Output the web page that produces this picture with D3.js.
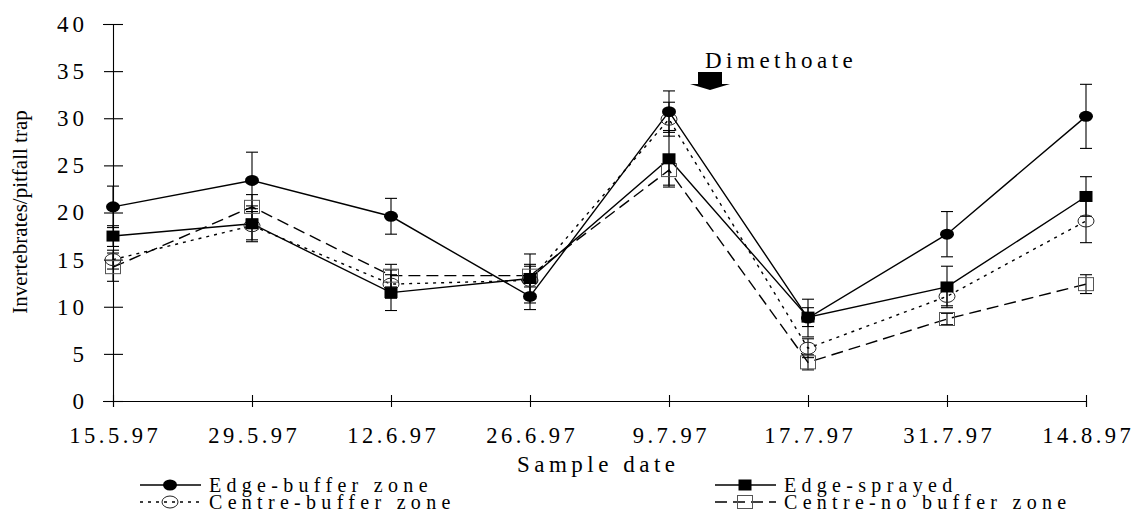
<!DOCTYPE html>
<html>
<head>
<meta charset="utf-8">
<script src="https://cdn.jsdelivr.net/npm/d3@7"></script>
<style>
    body { margin: 0; background: #fff; }
    svg text { font-family: "Liberation Serif", "Times New Roman", serif; fill: #000; }
</style>
</head>
<body>
<div id="chart"></div>
<script>
// Sample dates and y ticks
var dates = ["15.5.97", "29.5.97", "12.6.97", "26.6.97", "9.7.97", "17.7.97", "31.7.97", "14.8.97"];
var yTicks = [0, 5, 10, 15, 20, 25, 30, 35, 40];

// Means
var edgeBuffer = [20.6, 23.4, 19.6, 11.1, 30.7, 8.8, 17.7, 30.2];
var edgeSprayed = [17.5, 18.8, 11.5, 13.0, 25.7, 8.9, 12.1, 21.7];
var centreBuffer = [15.0, 18.6, 12.4, 12.8, 29.9, 5.6, 11.1, 19.1];
var centreNoBuffer = [14.2, 20.6, 13.3, 13.3, 24.5, 4.1, 8.7, 12.4];

// Standard errors
var edgeBufferErr = [2.2, 3.0, 1.9, 1.4, 2.2, 2.0, 2.4, 3.4];
var edgeSprayedErr = [1.1, 1.9, 1.9, 2.6, 3.0, 1.0, 2.2, 2.1];
var centreBufferErr = [1.0, 1.5, 1.5, 1.5, 1.8, 1.0, 1.0, 2.3];
var centreNoBufferErr = [1.5, 1.3, 1.2, 1.2, 1.6, 0.8, 0.6, 1.0];

var seriesNames = ["Edge-buffer zone", "Edge-sprayed", "Centre-buffer zone", "Centre-no buffer zone"];

var series = [
    { name: seriesNames[0], values: edgeBuffer, err: edgeBufferErr, dash: null, marker: "fcircle" },
    { name: seriesNames[1], values: edgeSprayed, err: edgeSprayedErr, dash: null, marker: "fsquare" },
    { name: seriesNames[2], values: centreBuffer, err: centreBufferErr, dash: "3,5", marker: "ocircle" },
    { name: seriesNames[3], values: centreNoBuffer, err: centreNoBufferErr, dash: "12,6", marker: "osquare" }
];

var svgWidth = 1133, svgHeight = 513;
var ls = 3.5; // letter spacing of the tick labels

var svg = d3.select("#chart").append("svg")
    .attr("width", svgWidth)
    .attr("height", svgHeight);

var x = d3.scalePoint().domain(dates).range([113, 1086]);
var y = d3.scaleLinear().domain([0, 40]).range([401, 24]);

// y axis
var yAxis = svg.append("g")
    .attr("transform", "translate(113,0)")
    .call(d3.axisLeft(y).tickValues(yTicks).tickSizeOuter(0).tickSize(10));
yAxis.select(".domain").attr("stroke", "#000").attr("stroke-width", 1.1);
yAxis.selectAll(".tick line").attr("x1", -9).attr("x2", 10).attr("stroke-width", 1.1);
yAxis.selectAll(".tick text")
    .attr("font-size", 23)
    .attr("font-family", null)
    .attr("x", -25)
    .style("letter-spacing", "4px");

// x axis
var xAxis = svg.append("g")
    .attr("transform", "translate(0,401)")
    .call(d3.axisBottom(x).tickSizeOuter(0).tickSize(6).tickPadding(20));
xAxis.select(".domain").attr("stroke", "#000").attr("stroke-width", 1.1);
xAxis.selectAll(".tick line").attr("y1", -6).attr("y2", 6).attr("stroke-width", 1.1);
xAxis.selectAll(".tick text")
    .attr("font-size", 22.5)
    .attr("font-family", null)
    .attr("dx", ls / 2)
    .style("letter-spacing", ls + "px");

// axis titles
svg.append("text")
    .attr("transform", "translate(27,212) rotate(-90)")
    .attr("text-anchor", "middle")
    .attr("font-size", 21)
    .text("Invertebrates/pitfall trap");

svg.append("text")
    .attr("x", 596 + 2.25)
    .attr("y", 472)
    .attr("text-anchor", "middle")
    .attr("font-size", 23)
    .style("letter-spacing", "4.5px")
    .text("Sample date");

// error bars
series.forEach(function (s) {
    var g = svg.append("g").attr("stroke", "#000").attr("stroke-width", 1.1);
    s.values.forEach(function (v, i) {
        var cx = x(dates[i]);
        var top = y(v + s.err[i]), bot = y(v - s.err[i]);
        g.append("line").attr("x1", cx).attr("x2", cx).attr("y1", top).attr("y2", bot);
        g.append("line").attr("x1", cx - 6).attr("x2", cx + 6).attr("y1", top).attr("y2", top);
        g.append("line").attr("x1", cx - 6).attr("x2", cx + 6).attr("y1", bot).attr("y2", bot);
    });
});

// lines
var line = d3.line()
    .x(function (d, i) { return x(dates[i]); })
    .y(function (d) { return y(d); });

series.forEach(function (s) {
    svg.append("path")
        .datum(s.values)
        .attr("d", line)
        .attr("fill", "none")
        .attr("stroke", "#000")
        .attr("stroke-width", 1.4)
        .attr("stroke-dasharray", s.dash);
});

function drawMarker(g, type, cx, cy) {
    if (type == "fcircle") {
        g.append("ellipse").attr("cx", cx).attr("cy", cy).attr("rx", 7).attr("ry", 5.5).attr("fill", "#000");
    } else if (type == "fsquare") {
        g.append("rect").attr("x", cx - 6.5).attr("y", cy - 5.5).attr("width", 13).attr("height", 11).attr("fill", "#000");
    } else if (type == "ocircle") {
        g.append("ellipse").attr("cx", cx).attr("cy", cy).attr("rx", 8).attr("ry", 6)
            .attr("fill", "none").attr("stroke", "#222").attr("stroke-width", 1);
    } else {
        g.append("rect").attr("x", cx - 7.5).attr("y", cy - 6.5).attr("width", 15).attr("height", 13)
            .attr("fill", "none").attr("stroke", "#555").attr("stroke-width", 1);
    }
}

// markers (hollow ones first so the filled ones sit on top)
[3, 2, 1, 0].forEach(function (k) {
    var s = series[k];
    var g = svg.append("g");
    s.values.forEach(function (v, i) {
        drawMarker(g, s.marker, x(dates[i]), y(v));
    });
});

// Dimethoate annotation
svg.append("text")
    .attr("x", 705)
    .attr("y", 68)
    .attr("font-size", 23)
    .style("letter-spacing", "4.5px")
    .text("Dimethoate");

var ax = 710;
svg.append("path")
    .attr("d", "M" + (ax - 12) + ",72 H" + (ax + 12) + " V84 H" + (ax + 20) + " L" + ax + ",90 L" + (ax - 20) + ",84 H" + (ax - 12) + " Z")
    .attr("fill", "#000");

// legend
var legendPos = [
    { lx: 140, row: 0 },
    { lx: 715, row: 0 },
    { lx: 140, row: 1 },
    { lx: 715, row: 1 }
];

series.forEach(function (s, k) {
    var p = legendPos[k];
    var ly = 485 + p.row * 17;
    var g = svg.append("g");
    g.append("line")
        .attr("x1", p.lx).attr("x2", p.lx + 61)
        .attr("y1", ly).attr("y2", ly)
        .attr("stroke", "#000").attr("stroke-width", 1.4)
        .attr("stroke-dasharray", s.dash);
    drawMarker(g, s.marker, p.lx + 30, ly);
    g.append("text")
        .attr("x", p.lx + 69)
        .attr("y", ly + 7)
        .attr("font-size", 20)
        .style("letter-spacing", "5.3px")
        .text(s.name);
});
</script>
</body>
</html>
